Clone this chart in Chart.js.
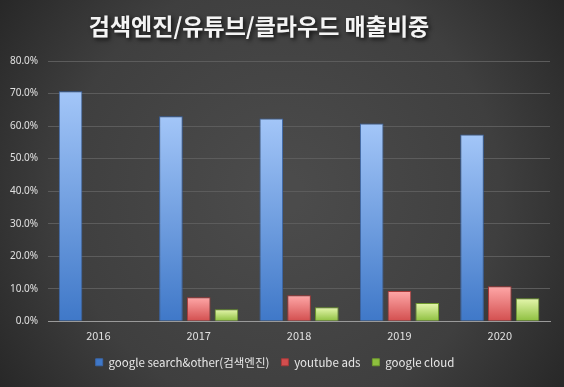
<!DOCTYPE html>
<html>
<head>
<meta charset="utf-8">
<script src="https://cdn.jsdelivr.net/npm/chart.js@4/dist/chart.umd.min.js"></script>
<style>
    html, body { margin: 0; padding: 0; background: #333; }
    #wrap { width: 564px; height: 387px; }
</style>
</head>
<body>
<div id="wrap"><canvas id="shareChart" width="564" height="387"></canvas></div>
<script>
// values, in percent
var years = ['2016', '2017', '2018', '2019', '2020'];
var searchShare = [70.7, 63.0, 62.3, 60.8, 57.4];
var youtubeShare = [null, 7.4, 8.0, 9.3, 10.8];
var cloudShare = [null, 3.7, 4.3, 5.6, 7.1];
var seriesNames = ['google search&other(검색엔진)', 'youtube ads', 'google cloud'];
var chartTitle = '검색엔진/유튜브/클라우드 매출비중';

var kFont = '"Noto Sans CJK KR", "Noto Sans", sans-serif';

// dark radial background like the excel theme
var bgPlugin = {
    id: 'darkBg',
    beforeDraw: function (chart) {
        var ctx = chart.ctx;
        var w = chart.width, h = chart.height;
        var g = ctx.createRadialGradient(w / 2, h / 2, 20, w / 2, h / 2, w * 0.62);
        g.addColorStop(0, '#4b4b4b');
        g.addColorStop(0.6, '#3f3f3f');
        g.addColorStop(1, '#262626');
        ctx.save();
        ctx.fillStyle = g;
        ctx.fillRect(0, 0, w, h);
        ctx.restore();
    }
};

// title with a soft drop shadow, sitting a bit left of centre like the original
var titlePlugin = {
    id: 'shadowTitle',
    afterDraw: function (chart) {
        var ctx = chart.ctx;
        ctx.save();
        ctx.font = 'bold 23px ' + kFont;
        ctx.textAlign = 'center';
        ctx.textBaseline = 'middle';
        ctx.shadowColor = 'rgba(0,0,0,0.8)';
        ctx.shadowBlur = 4;
        ctx.shadowOffsetX = 2;
        ctx.shadowOffsetY = 2;
        ctx.fillStyle = '#f4f4f4';
        ctx.fillText(chartTitle, 259, 26);
        ctx.restore();
    }
};

// gradient per bar: light at the top, darker at the base
function barGradient(top, bottom) {
    return function (context) {
        var chart = context.chart;
        var area = chart.chartArea;
        var v = context.raw;
        if (!area || v == null || !chart.scales.y) return bottom;
        var yTop = chart.scales.y.getPixelForValue(v);
        var g = chart.ctx.createLinearGradient(0, yTop, 0, area.bottom);
        g.addColorStop(0, top);
        g.addColorStop(1, bottom);
        return g;
    };
}

var ctx = document.getElementById('shareChart').getContext('2d');
new Chart(ctx, {
    type: 'bar',
    plugins: [bgPlugin, titlePlugin],
    data: {
        labels: years,
        datasets: [{
            label: seriesNames[0],
            data: searchShare,
            backgroundColor: barGradient('#a3c6f8', '#3f78c8'),
            borderColor: '#3a66a8',
            borderWidth: 1
        }, {
            label: seriesNames[1],
            data: youtubeShare,
            backgroundColor: barGradient('#ffa8a8', '#d24e4e'),
            borderColor: '#a83a3a',
            borderWidth: 1
        }, {
            label: seriesNames[2],
            data: cloudShare,
            backgroundColor: barGradient('#e6f7ae', '#8dbf3e'),
            borderColor: '#6f9a2e',
            borderWidth: 1
        }]
    },
    options: {
        responsive: false,
        animation: false,
        layout: { padding: { left: 0, right: 14, top: 61, bottom: 9 } },
        datasets: {
            bar: { categoryPercentage: 0.83, barPercentage: 0.85, skipNull: false }
        },
        scales: {
            x: {
                grid: { display: false },
                border: { color: '#9a9a9a', width: 1 },
                ticks: { color: '#e0e0e0', font: { family: kFont, size: 11 }, padding: 0 },
                afterFit: function (scale) { scale.height += 2; }
            },
            y: {
                min: 0,
                max: 80,
                grid: { color: '#5c5c5c', drawTicks: false },
                border: { display: false },
                ticks: {
                    stepSize: 10,
                    color: '#e0e0e0',
                    padding: 10,
                    font: { family: '"Noto Sans", sans-serif', size: 10 },
                    callback: function (v) { return v.toFixed(1) + '%'; }
                }
            }
        },
        plugins: {
            title: { display: false },
            legend: {
                position: 'bottom',
                labels: {
                    color: '#e8e8e8',
                    boxWidth: 7,
                    boxHeight: 7,
                    padding: 12,
                    font: { family: kFont, size: 11.5 }
                }
            },
            tooltip: { enabled: false }
        }
    }
});
</script>
</body>
</html>
